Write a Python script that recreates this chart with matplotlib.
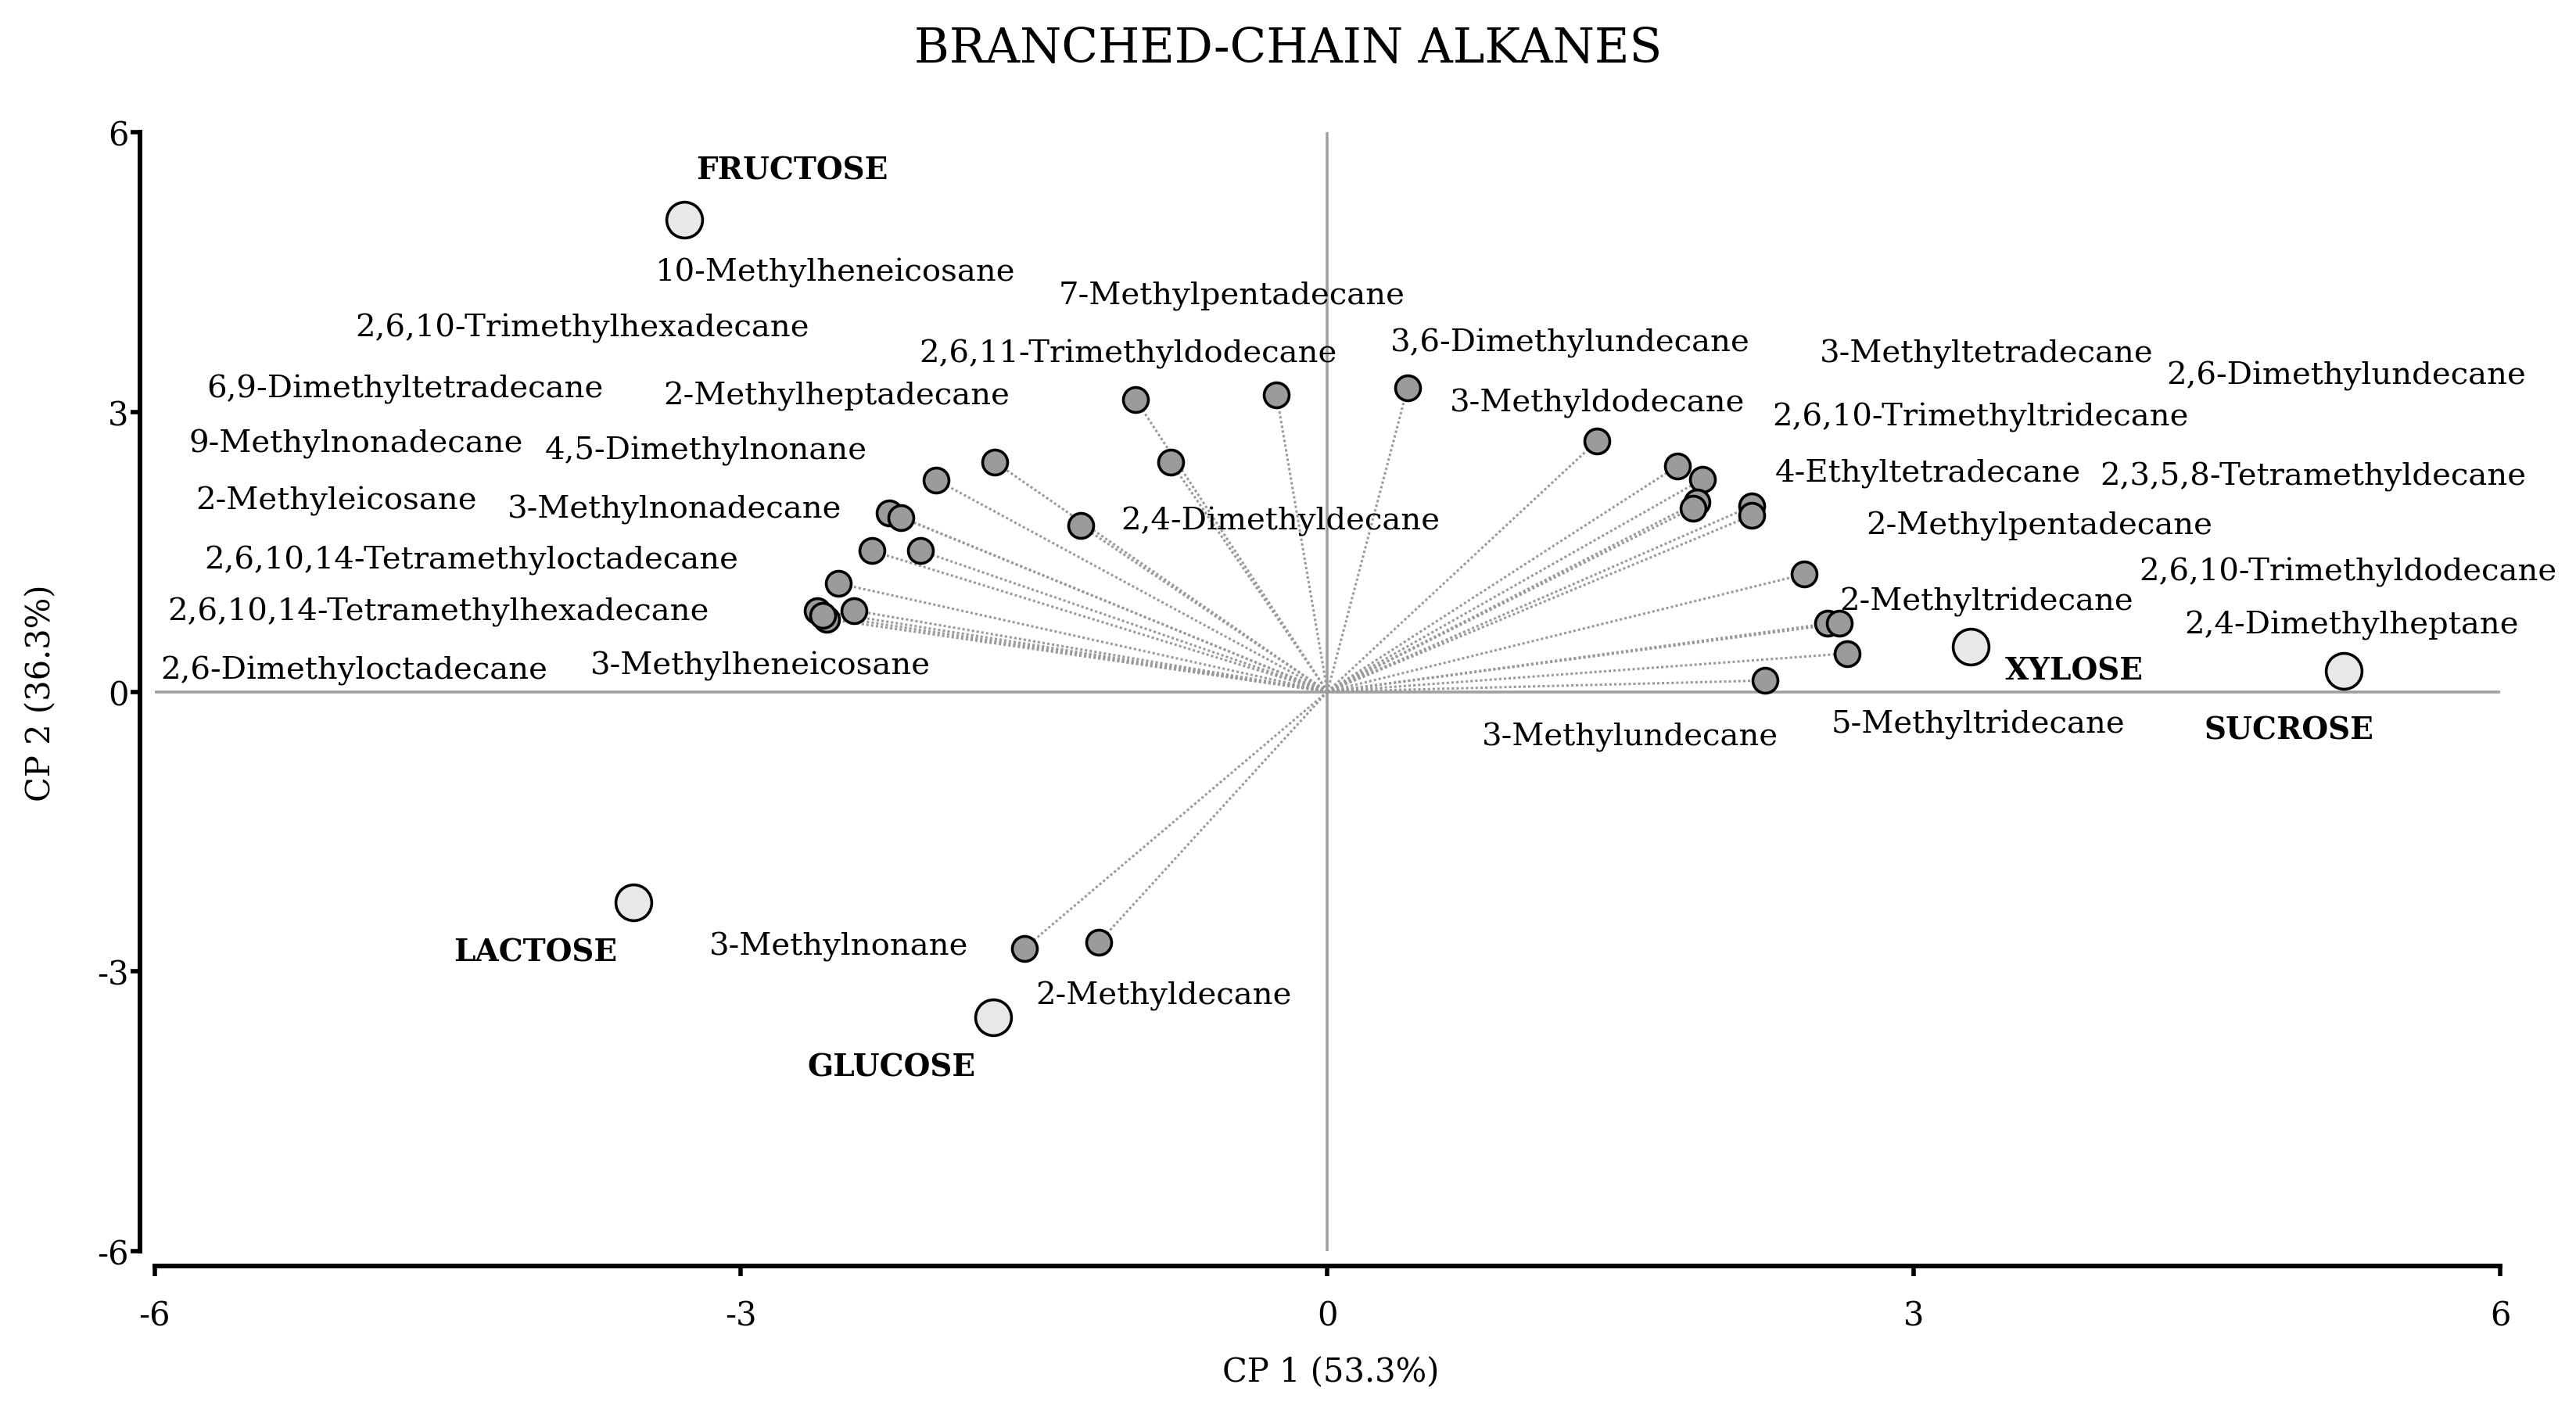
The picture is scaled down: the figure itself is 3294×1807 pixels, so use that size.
import matplotlib
matplotlib.use("Agg")
import matplotlib.pyplot as plt

plt.rcParams['font.family'] = ['DejaVu Serif']

# ---- data ----
samples = ["FRUCTOSE", "LACTOSE", "GLUCOSE", "XYLOSE", "SUCROSE"]
sample_cp1 = [-3.29, -3.55, -1.71, 3.29, 5.20]
sample_cp2 = [5.06, -2.26, -3.49, 0.48, 0.22]

variables = [
    "7-Methylpentadecane", "2,6,11-Trimethyldodecane", "3,6-Dimethylundecane",
    "2,4-Dimethyldecane", "2-Methylheptadecane", "4,5-Dimethylnonane",
    "10-Methylheneicosane", "2,6,10-Trimethylhexadecane", "6,9-Dimethyltetradecane",
    "9-Methylnonadecane", "3-Methylnonadecane", "2-Methyleicosane",
    "2,6,10,14-Tetramethyloctadecane", "2,6,10,14-Tetramethylhexadecane",
    "2,6-Dimethyloctadecane", "3-Methylheneicosane",
    "3-Methyldodecane", "3-Methyltetradecane", "2,6-Dimethylundecane",
    "2,6,10-Trimethyltridecane", "4-Ethyltetradecane", "2,3,5,8-Tetramethyldecane",
    "2-Methylpentadecane", "2,6,10-Trimethyldodecane", "2-Methyltridecane",
    "2,4-Dimethylheptane", "5-Methyltridecane", "3-Methylundecane",
    "3-Methylnonane", "2-Methyldecane",
]
var_cp1 = [-0.26, -0.98, 0.41, -1.26, -0.80, -1.70, -2.00, -2.24, -2.18, -2.33,
           -2.08, -2.50, -2.61, -2.42, -2.56, -2.58,
           1.38, 1.79, 1.92, 1.89, 1.87, 2.17, 2.17, 2.44, 2.56, 2.62, 2.66, 2.24,
           -1.55, -1.17]
var_cp2 = [3.18, 3.13, 3.26, 1.78, 2.46, 2.46, 2.27, 1.92, 1.87, 1.51,
           1.51, 1.16, 0.87, 0.87, 0.78, 0.82,
           2.69, 2.42, 2.28, 2.03, 1.97, 1.99, 1.89, 1.26, 0.73, 0.73, 0.41, 0.12,
           -2.75, -2.69]

title = "BRANCHED-CHAIN ALKANES"
xlabel = "CP 1 (53.3%)"
ylabel = "CP 2 (36.3%)"
ticks = [-6, -3, 0, 3, 6]

# ---- layout: label centres (data coords) ----
sample_label_pos = [(-2.74, 5.59), (-4.05, -2.79), (-2.23, -4.02), (3.82, 0.23), (4.92, -0.41)]
var_label_pos = [
    (-0.49, 4.25), (-1.02, 3.63), (1.24, 3.74), (-0.24, 1.83), (-2.51, 3.17),
    (-3.18, 2.59), (-2.52, 4.50), (-3.81, 3.90), (-4.72, 3.25), (-4.97, 2.66),
    (-3.34, 1.96), (-5.07, 2.05), (-4.38, 1.41), (-4.55, 0.86), (-4.98, 0.23),
    (-2.90, 0.28),
    (1.38, 3.10), (3.37, 3.63), (5.21, 3.39), (3.34, 2.95), (3.07, 2.35),
    (5.04, 2.31), (3.64, 1.78), (5.22, 1.29), (3.37, 0.97), (5.24, 0.72),
    (3.33, -0.35), (1.55, -0.48),
    (-2.50, -2.73), (-0.84, -3.26),
]

W, H, DPI = 3294, 1808, 100
fig = plt.figure(figsize=(W / DPI, H / DPI), dpi=DPI)
ax = fig.add_axes([0.05996, 0.1144, 0.9107, 0.7916])
ax.set_xlim(-6, 6)
ax.set_ylim(-6, 6)

grey = "#a0a0a0"
ax.axhline(0, color=grey, lw=2.6, zorder=1)
ax.axvline(0, color=grey, lw=2.6, zorder=1)

for x, y in zip(var_cp1, var_cp2):
    ax.plot([0, x], [0, y], color="#9a9a9a", lw=2.2, ls=(0, (1, 1)), zorder=2)

ax.scatter(var_cp1, var_cp2, s=23 ** 2, c="#9b9b9b", edgecolors="black",
           linewidths=2.6, zorder=4)
ax.scatter(sample_cp1, sample_cp2, s=33 ** 2, c="#e8e8e8", edgecolors="black",
           linewidths=2.6, zorder=4)

for name, (lx, ly) in zip(variables, var_label_pos):
    ax.text(lx, ly, name, ha="center", va="center", fontsize=29, zorder=5)
for name, (lx, ly) in zip(samples, sample_label_pos):
    ax.text(lx, ly, name, ha="center", va="center", fontsize=28,
            fontweight="bold", zorder=5)

for s in ["top", "right"]:
    ax.spines[s].set_visible(False)
for s in ["left", "bottom"]:
    ax.spines[s].set_linewidth(4.3)
    ax.spines[s].set_position(("outward", 13.5))
ax.spines["left"].set_bounds(-6, 6)
ax.spines["bottom"].set_bounds(-6, 6)

ax.set_xticks(ticks)
ax.set_yticks(ticks)
ax.set_xticklabels([str(t) for t in ticks])
ax.set_yticklabels([str(t) for t in ticks])
ax.tick_params(axis="x", length=9, width=4, pad=22, labelsize=30, direction="out")
ax.tick_params(axis="y", length=9, width=4, pad=1, labelsize=30, direction="out")

fig.text(0.5, 0.965, title, ha="center", va="center", fontsize=44)
fig.text(0.5165, 0.029, xlabel, ha="center", va="center", fontsize=30)
fig.text(0.016, 0.51, ylabel, ha="center", va="center", rotation=90, fontsize=30)

fig.savefig("out.png", dpi=DPI)
